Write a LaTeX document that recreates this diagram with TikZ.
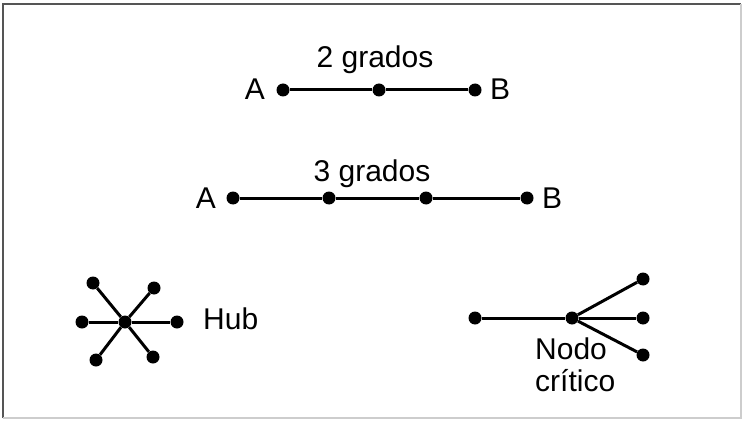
\documentclass[tikz,border=0pt]{standalone}
\usepackage{fontspec}
\setmainfont{Liberation Sans}
\usetikzlibrary{positioning}
\definecolor{framedark}{RGB}{85,85,85}
\definecolor{framelight}{RGB}{205,205,205}
\tikzstyle{dot} = [circle, fill=black, inner sep=0pt, minimum size=13pt]
\tikzstyle{txt} = [inner sep=0pt, font=\fontsize{30}{32}\selectfont]
\tikzstyle{link} = [line width=3pt, black]

\begin{document}
\begin{tikzpicture}[x=1pt, y=-1pt]

\useasboundingbox (0,0) rectangle (743,422);

% Frame
\draw[framedark, line width=2pt] (2.5,418) -- (2.5,4.5) -- (741,4.5);
\draw[framelight, line width=1.5pt] (741,4.5) -- (741,418) -- (2.5,418);

% 2 grados
\node[txt, anchor=base] (t2) at (375,68) {2 grados};
\node[dot] (a2) at (283,90) {};
\node[dot] (m2) at (379,90) {};
\node[dot] (b2) at (475,90) {};
\node[txt] (la2) at (255,89) {A};
\node[txt] (lb2) at (500,89) {B};
\draw[link] (a2) -- (m2) -- (b2);

% 3 grados
\node[txt, anchor=base] (t3) at (372,182) {3 grados};
\node[dot] (a3) at (233,198) {};
\node[dot] (m3) at (329,198) {};
\node[dot] (n3) at (426,198) {};
\node[dot] (b3) at (527,198) {};
\node[txt] (la3) at (206,198) {A};
\node[txt] (lb3) at (552,198) {B};
\draw[link] (a3) -- (m3) -- (n3) -- (b3);

% Hub
\node[dot] (hub) at (125,322) {};
\node[dot] (hubA) at (93,283) {};
\node[dot] (hubB) at (154,288) {};
\node[dot] (hubC) at (82,322) {};
\node[dot] (hubD) at (177,322) {};
\node[dot] (hubE) at (96,360) {};
\node[dot] (hubF) at (153,357) {};
\node[txt, anchor=base west] (thub) at (203,329) {Hub};
\foreach \leaf in {hubA,hubB,hubC,hubD,hubE,hubF}
    \draw[link] (hub) -- (\leaf);

% Nodo critico
\node[dot] (crit) at (572,318) {};
\node[dot] (critL) at (475,318) {};
\node[dot] (critT) at (643,279) {};
\node[dot] (critM) at (643,318) {};
\node[dot] (critB) at (643,355) {};
\node[txt, anchor=north west, align=left] (tcrit) at (535,338) {Nodo\\crítico};
\draw[link] (critL) -- (crit);
\foreach \leaf in {critT,critM,critB}
    \draw[link] (crit) -- (\leaf);

\end{tikzpicture}
\end{document}
